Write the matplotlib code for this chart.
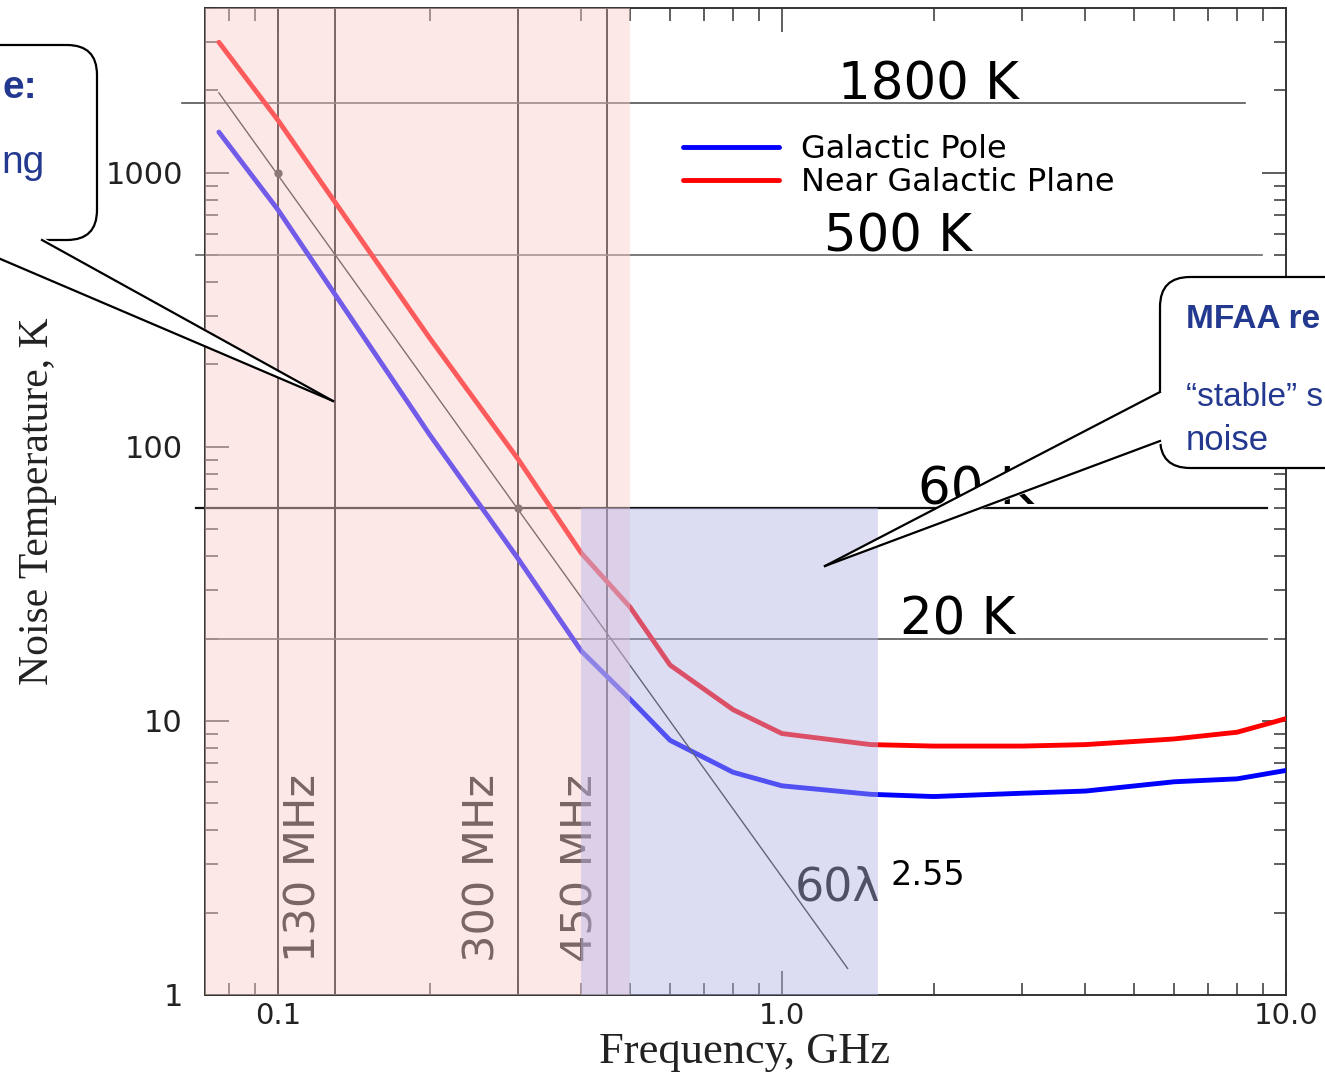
import matplotlib
matplotlib.use("Agg")
import matplotlib.pyplot as plt
from matplotlib.patches import FancyBboxPatch, Polygon
from matplotlib.lines import Line2D
from matplotlib.ticker import LogLocator, NullFormatter

# data
freq_ghz = [0.0764, 0.1, 0.2, 0.3, 0.4, 0.5, 0.6, 0.8, 1.0, 1.5, 2.0, 3.0, 4.0, 6.0, 8.0, 10.0]
t_plane = [3000, 1560, 250, 90, 41, 26, 16, 11, 9.0, 8.2, 8.1, 8.1, 8.2, 8.6, 9.1, 10.2]
t_pole = [1410, 735, 111, 39, 18, 12, 8.5, 6.5, 5.8, 5.4, 5.3, 5.45, 5.55, 6.0, 6.15, 6.6]
fit_freq = [0.0764, 1.35]
fit_temp = [1960, 1.25]
fit_dots_f = [0.1, 0.3]
fit_dots_t = [1000, 60]
marker_freqs = [0.1, 0.13, 0.3, 0.45]
marker_labels = ["130 MHz", "300 MHz", "450 MHz"]
marker_label_x = [0.1126, 0.2546, 0.398]
levels = [1800, 500, 60, 20]
level_labels = ["1800 K", "500 K", "60 K", "20 K"]
level_x = [(0.0645, 8.3), (0.0688, 8.96), (0.0688, 9.17), (0.0717, 9.17)]
level_text_x = [1.95, 1.70, 2.42, 2.23]
low_band = (0.0717, 0.5)
mfaa_band = (0.4, 1.55, 1, 60)

W, H = 1325, 1073
fig = plt.figure(figsize=(W / 100, H / 100), dpi=100)
ax = fig.add_axes([205 / W, 78 / H, 1081 / W, 987 / H])
ax.set_xscale("log")
ax.set_yscale("log")
ax.set_xlim(0.0717, 10)
ax.set_ylim(1, 4000)

sans = "DejaVu Sans"
serif = "Liberation Serif"

ax.plot(freq_ghz, t_pole, color="#0000ff", lw=3.5, label="Galactic Pole", zorder=3, solid_capstyle="round")
ax.plot(freq_ghz, t_plane, color="#ff0000", lw=3.5, label="Near Galactic Plane", zorder=3, solid_capstyle="round")
ax.plot(fit_freq, fit_temp, color="#222222", lw=1.0, zorder=3)
ax.plot(fit_dots_f, fit_dots_t, "o", color="#333333", ms=5, zorder=4)

for f in marker_freqs:
    ax.axvline(f, color="#111111", lw=1.4, zorder=2)
for lab, xl in zip(marker_labels, marker_label_x):
    ax.text(xl, 2.91, lab, rotation=90, ha="center", va="center", fontsize=31,
            family=sans, color="#111111", zorder=2)

lcolors = ["#555555", "#666666", "#111111", "#555555"]
lwidths = [1.2, 1.2, 1.6, 1.2]
for lv, lab, (x0, x1), tx, c, w in zip(levels, level_labels, level_x, level_text_x, lcolors, lwidths):
    ax.plot([x0, x1], [lv, lv], color=c, lw=w, clip_on=False, zorder=2)
    ax.text(tx, lv * 1.03, lab, ha="center", va="baseline", fontsize=37, family=sans, color="black", zorder=2)

ax.text(1.06, 2.22, "60λ", ha="left", va="baseline", fontsize=33, family=sans,
        color="black", zorder=2)
ax.text(1.64, 2.52, "2.55", ha="left", va="baseline", fontsize=24, family=sans,
        color="black", zorder=2)

# shaded bands drawn over the curves
ax.axvspan(low_band[0], low_band[1], color=(0.99, 0.8, 0.8), alpha=0.45, lw=0, zorder=5)
ax.fill_between([mfaa_band[0], mfaa_band[1]], mfaa_band[2], mfaa_band[3],
                color=(0.7, 0.7, 0.9), alpha=0.45, lw=0, zorder=5)

ax.set_xticks([0.1, 1, 10])
ax.set_xticklabels(["0.1", "1.0", "10.0"])
ax.set_yticks([1, 10, 100, 1000])
ax.set_yticklabels(["1", "10", "100", "1000"])
ax.xaxis.set_minor_locator(LogLocator(subs=range(2, 10)))
ax.yaxis.set_minor_locator(LogLocator(subs=range(2, 10)))
ax.xaxis.set_minor_formatter(NullFormatter())
ax.yaxis.set_minor_formatter(NullFormatter())
ax.tick_params(which="both", direction="in", top=True, right=True, color="#333333", width=1.1)
ax.tick_params(which="major", length=17)
ax.tick_params(which="minor", length=9)
ax.tick_params(axis="y", which="major", pad=16, labelsize=22)
ax.tick_params(axis="x", which="major", pad=5, labelsize=21)
for lab in ax.get_xticklabels() + ax.get_yticklabels():
    lab.set_family(sans)
    lab.set_color("#222222")
for s in ax.spines.values():
    s.set_color("#333333")
    s.set_linewidth(1.4)

ax.set_xlabel("Frequency, GHz", family=serif, fontsize=32, color="#222222")
ax.xaxis.label.set_va("baseline")
ax.xaxis.set_label_coords(0.4995, -0.0689)
ax.set_ylabel("Noise Temperature, K", family=serif, fontsize=30, color="#222222")
ax.yaxis.set_label_coords(-0.137, 0.5)

ax.legend(loc="upper left", bbox_to_anchor=(683 / W, 1 - 134 / H), bbox_transform=fig.transFigure,
          frameon=False, prop={"family": sans, "size": 23}, handlelength=3.0, handletextpad=0.68,
          labelspacing=0.07, borderpad=0, borderaxespad=0)


# callouts, positioned in reference pixels
def px(x, y):
    return (x / 100, (H - y) / 100)


tr = fig.dpi_scale_trans
navy = "#23388f"


def callout(x0, y0, x1, y1, cover, tip, base_a, base_b):
    bx, by = px(x0, y1)
    box = FancyBboxPatch((bx, by), (x1 - x0) / 100, (y1 - y0) / 100,
                         boxstyle="round,pad=0,rounding_size=0.3", transform=tr,
                         facecolor="white", edgecolor="black", lw=1.6, zorder=10)
    fig.add_artist(box)
    fig.add_artist(Polygon([px(*p) for p in cover], closed=True, transform=tr,
                           facecolor="white", edgecolor="none", zorder=11))
    for b in (base_a, base_b):
        (ax_, ay_), (bx_, by_) = px(*b), px(*tip)
        fig.add_artist(Line2D([ax_, bx_], [ay_, by_], transform=tr, color="black", lw=1.6, zorder=12))


callout(-120, 45, 97, 240,
        [(-30, 237), (42, 237), (333, 401), (-30, 246)], (333, 401), (42, 240), (-30, 246))
callout(1160, 277, 1500, 468,
        [(1163, 390), (825, 566), (1163, 443)], (825, 566), (1160, 392), (1160, 441))

fig.text(*px(37, 88), "e:", transform=tr, ha="right", va="center", fontsize=28,
         family="Liberation Sans", weight="bold", color=navy, zorder=13)
fig.text(*px(45, 163), "ng", transform=tr, ha="right", va="center", fontsize=28,
         family="Liberation Sans", color=navy, zorder=13)
fig.text(*px(1186, 320), "MFAA re", transform=tr, ha="left", va="center", fontsize=24,
         family="Liberation Sans", weight="bold", color=navy, zorder=13)
fig.text(*px(1186, 397), "“stable” s", transform=tr, ha="left", va="center", fontsize=24,
         family="Liberation Sans", color=navy, zorder=13)
fig.text(*px(1186, 441), "noise", transform=tr, ha="left", va="center", fontsize=25,
         family="Liberation Sans", color=navy, zorder=13)

fig.savefig("out.png", dpi=100)
